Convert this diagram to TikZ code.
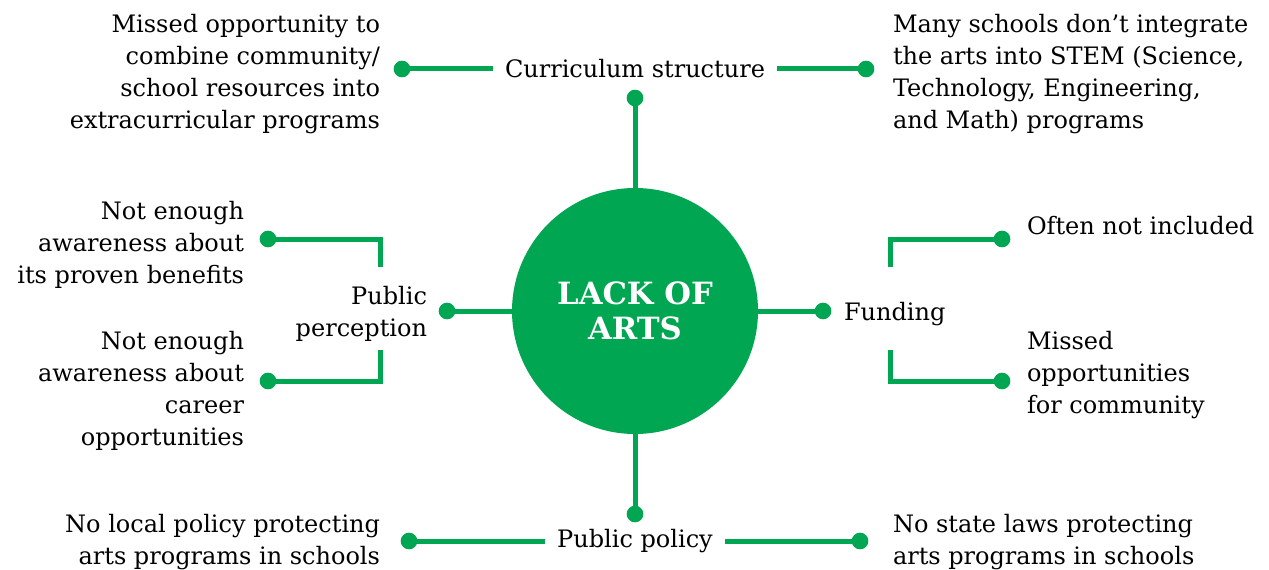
\documentclass[tikz,border=0pt]{standalone}
\usepackage{fontspec}
\setmainfont{DejaVu Serif}
\usetikzlibrary{positioning}
\definecolor{artsgreen}{RGB}{0,166,81}

\begin{document}
\begin{tikzpicture}[x=0.75pt,y=-0.75pt,
line width=3.75pt,draw=artsgreen,
every node/.style={text=black,outer sep=0pt,font=\fontsize{18}{24}\selectfont},
hub/.style={circle,fill=artsgreen,draw=none,minimum size=184.5pt,
    text=white,align=center,font=\bfseries\fontsize{23}{26}\selectfont},
dot/.style={circle,fill=artsgreen,draw=none,inner sep=0pt,minimum size=12.5pt},
branch/.style={inner xsep=9pt,inner ysep=0pt},
leftnote/.style={align=right,anchor=east,inner sep=0pt},
rightnote/.style={align=left,anchor=west,inner sep=0pt}
]
\useasboundingbox (0,0) rectangle (1269,570);

\node[hub] (hub) at (635,311) {LACK OF\\ARTS};

% the four branches
\node[dot] (dCurr) at (635,98) {};
\node[dot] (dPol) at (635,514) {};
\node[dot] (dPerc) at (447,311) {};
\node[dot] (dFund) at (823,311) {};
\node[branch] (curr) at (635,69) {Curriculum structure};
\node[branch] (pol) at (635,541) {Public policy};
\node[leftnote] (perc) at (427,314) {Public\\perception};
\node[rightnote] (fund) at (844,314) {Funding};

% end dots of the sub-branches
\node[dot] (dCurrL) at (402,69) {};
\node[dot] (dCurrR) at (866,69) {};
\node[dot] (dPolL) at (409,541) {};
\node[dot] (dPolR) at (860,541) {};
\node[dot] (dPercA) at (268,239) {};
\node[dot] (dPercB) at (268,381) {};
\node[dot] (dFundA) at (1002,239) {};
\node[dot] (dFundB) at (1002,381) {};
\coordinate (percA) at (380,267);
\coordinate (percB) at (380,350);
\coordinate (fundA) at (890,267);
\coordinate (fundB) at (890,350);

% notes
\node[leftnote] (nCurrL) at (380,74) {Missed opportunity to\\combine community/\\school resources into\\extracurricular programs};
\node[rightnote] (nCurrR) at (893,74) {Many schools don’t integrate\\the arts into STEM (Science,\\Technology, Engineering,\\and Math) programs};
\node[leftnote] (nPercA) at (244,245) {Not enough\\awareness about\\its proven benefits};
\node[leftnote] (nPercB) at (244,391) {Not enough\\awareness about\\career\\opportunities};
\node[rightnote] (nFundA) at (1027,226) {Often not included};
\node[rightnote] (nFundB) at (1027,375) {Missed\\opportunities\\for community};
\node[leftnote] (nPolL) at (380,542) {No local policy protecting\\arts programs in schools};
\node[rightnote] (nPolR) at (893,542) {No state laws protecting\\arts programs in schools};

\draw (hub) -- (dCurr)
      (hub) -- (dPol)
      (hub) -- (dPerc)
      (hub) -- (dFund);
\draw (curr.west) -- (dCurrL)
      (curr.east) -- (dCurrR)
      (pol.west) -- (dPolL)
      (pol.east) -- (dPolR);
\draw (percA) |- (dPercA)
      (percB) |- (dPercB)
      (fundA) |- (dFundA)
      (fundB) |- (dFundB);
\end{tikzpicture}
\end{document}
